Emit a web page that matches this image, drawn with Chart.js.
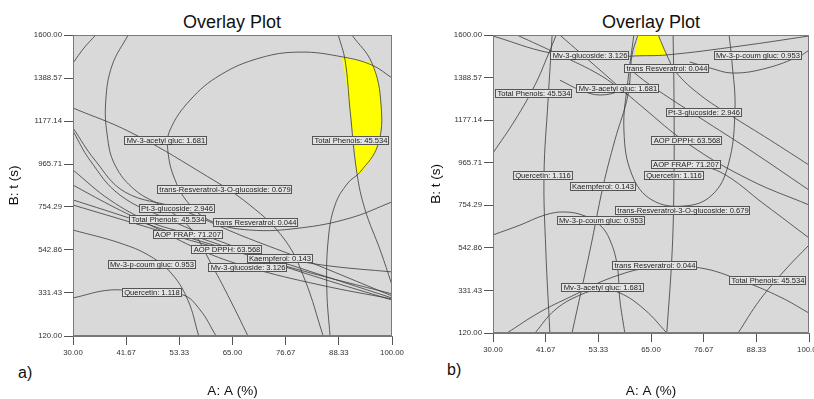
<!DOCTYPE html>
<html>
<head>
<meta charset="utf-8">
<script src="https://cdn.jsdelivr.net/npm/chart.js@4/dist/chart.umd.min.js"></script>
<style>
  body { margin: 0; width: 814px; height: 399px; overflow: hidden; position: relative; background: #fff;
         font-family: Arial, "Liberation Sans", sans-serif; color: #111; }
  canvas { position: absolute; top: 0; }
  #ca { left: 0; }
  #cb { left: 410px; }
  .ttl { position: absolute; top: 13px; width: 200px; text-align: center; font-size: 18px; line-height: 18px; }
  .tag { position: absolute; font-size: 16px; line-height: 16px; }
</style>
</head>
<body>
<div class="ttl" style="left:132px">Overlay Plot</div>
<div class="ttl" style="left:551px">Overlay Plot</div>
<div class="tag" style="left:18px;top:365px">a)</div>
<div class="tag" style="left:447px;top:362px">b)</div>
<canvas id="ca" width="410" height="399"></canvas>
<canvas id="cb" width="404" height="399"></canvas>
<script>
const xTicks = [30, 41.67, 53.33, 65, 76.67, 88.33, 100];
const yTicks = [120, 331.43, 542.86, 754.29, 965.71, 1177.14, 1388.57, 1600];

// panel a) contour lines as [A (%), t (s)]
const aTopArc = [[30, 1462], [32.4, 1536], [35, 1600]];
const aBigArc = [[42.1, 1600], [38.6, 1452], [37.2, 1280], [37.5, 1108], [39.2, 961], [43.6, 838], [50.2, 749], [55.7, 651], [60.7, 459], [64.5, 297], [68.4, 120]];
const aAcetyl = [[30, 1241], [42.5, 1123], [57.9, 926], [68.8, 764], [76.5, 592], [80.9, 395], [84.9, 120]];
const aResveratrol = [[100, 1389], [95.6, 1452], [89.2, 1492], [79.8, 1516], [71.0, 1487], [62.3, 1403], [55.7, 1280], [51.3, 1133], [50.8, 1035], [52.4, 887], [55.7, 764], [60.7, 681], [68.8, 641], [79.8, 651], [90.8, 700], [100, 779]];
const aEdge = [[88.2, 1600], [89.7, 1477], [90.8, 1231], [92.3, 921], [94.1, 740], [97.4, 543], [100, 371]];
const aPhenols = [[91.2, 1600], [95.6, 1462], [97.6, 1256], [96.9, 1059], [93.0, 926], [90.3, 872], [87.5, 764], [86.0, 592], [85.7, 346], [86.4, 120]];
const aPt3 = [[30, 1143], [34.8, 985], [41.4, 828], [52.8, 749], [66.6, 617], [79.8, 503], [100, 317]];
const aPhenols2 = [[30, 1128], [33.7, 985], [40.3, 813], [50.8, 695], [64.5, 567], [79.8, 454], [100, 307]];
const aFrap = [[30, 936], [38.1, 789], [46.9, 681], [55.2, 622], [68.8, 518], [84.2, 405], [100, 297]];
const aDpph = [[30, 789], [40.3, 715], [53.5, 617], [63.8, 548], [79.8, 444], [100, 327]];
const aKaempferol = [[30, 764], [44.7, 666], [57.9, 577], [66.6, 533], [75.4, 503], [86.4, 464], [100, 435]];
const aGlucoside = [[30, 862], [38.1, 764], [46.9, 666], [57.9, 543], [68.4, 459], [84.2, 371], [100, 302]];
const aCoum = [[30, 641], [40.3, 577], [46.9, 513], [51.7, 425], [55.2, 297], [57.6, 120]];
const aQuercetin = [[30, 307], [38.1, 346], [44.7, 336], [54.1, 322], [57.9, 248], [61.4, 120]];
const aYellow = [[89.0, 1492], [92.3, 1477], [95.6, 1457], [97.1, 1354], [97.6, 1231], [97.2, 1084], [95.6, 995], [92.5, 917], [91.7, 1059], [90.8, 1231], [89.9, 1379]];
const aLabels = [
  ['Mv-3-acetyl gluc: 1.681', 50.4, 1084],
  ['Total Phenols: 45.534', 91.0, 1084],
  ['trans-Resveratrol-3-O-glucoside: 0.679', 63.4, 843],
  ['Pt-3-glucoside: 2.946', 52.8, 749],
  ['Total Phenols: 45.534', 50.8, 695],
  ['trans Resveratrol: 0.044', 70.2, 681],
  ['AOP FRAP: 71.207', 55.2, 622],
  ['AOP DPPH: 63.568', 63.8, 548],
  ['Kaempferol: 0.143', 75.4, 503],
  ['Mv-3-p-coum gluc: 0.953', 47.3, 474],
  ['Mv-3-glucoside: 3.126', 68.4, 459],
  ['Quercetin: 1.118', 47.3, 336]
];

// panel b)
const bGlucoside = [[30, 1595], [42.6, 1511], [53.7, 1486], [61.5, 1496], [68.5, 1501], [84.7, 1545], [100, 1595]];
const bYellowEdge = [[66.6, 1600], [68.5, 1501], [70.5, 1416], [75.9, 1302], [82.5, 1203], [91.4, 1078], [100, 954]];
const bCoumTop = [[73.6, 1466], [78.1, 1436], [83.2, 1411], [90.7, 1436], [98.0, 1496], [100, 1525]];
const bOval = [[61.2, 1600], [59.9, 1376], [59.0, 1128], [60.8, 905], [65.2, 781], [72.5, 751], [78.5, 805], [82.1, 954], [83.6, 1228], [82.9, 1476], [82.3, 1600]];
const bQuercetinL = [[43.1, 1600], [42.2, 1277], [41.3, 905], [41.7, 532], [42.6, 120]];
const bQuercetinR = [[69.9, 1600], [70.1, 1277], [70.1, 905], [69.7, 532], [68.5, 120]];
const bKaempferol = [[62.1, 1600], [60.8, 1501], [59.9, 1302], [57.0, 1078], [54.4, 850], [51.5, 532], [47.5, 120]];
const bResveratrol = [[33.1, 120], [40.4, 224], [47.1, 299], [56.6, 398], [65.9, 448], [75.9, 443], [84.7, 383], [93.6, 299], [100, 219]];
const bAcetyl = [[39.3, 120], [43.7, 234], [49.3, 309], [53.7, 334], [58.1, 319], [63.7, 234], [68.5, 120]];
const bCoum = [[30, 607], [36.0, 656], [41.5, 706], [45.9, 721], [50.4, 701], [53.7, 656], [55.9, 582], [57.5, 458], [58.1, 284], [59.2, 120]];
const bPhenols = [[100, 557], [94.7, 433], [89.1, 284], [84.3, 120]];
const bPhenolsTop = [[30, 1014], [34.9, 1178], [39.3, 1352], [42.2, 1501], [44.0, 1600]];
const bAcetylTop = [[44.8, 1376], [49.3, 1327], [53.7, 1302], [58.6, 1327], [60.3, 1362]];
const bPt3 = [[59.7, 1441], [64.8, 1352], [75.9, 1188], [86.9, 1029], [100, 830]];
const bDpph = [[44.8, 1600], [53.7, 1426], [62.6, 1252], [73.6, 1054], [86.9, 880], [100, 756]];
const bFrap = [[73.6, 954], [80.3, 920], [90.3, 756], [100, 592]];
const bCross = [[35.3, 1600], [44.8, 1501], [53.7, 1401], [59.9, 1302]];
const bYellow = [[62.1, 1600], [66.6, 1600], [68.5, 1501], [61.5, 1501]];
const bLabels = [
  ['Mv-3-glucoside: 3.126', 51.5, 1501],
  ['Mv-3-p-coum gluc: 0.953', 88.7, 1501],
  ['trans Resveratrol: 0.044', 68.5, 1436],
  ['Mv-3-acetyl gluc: 1.681', 57.7, 1337],
  ['Total Phenols: 45.534', 39.1, 1312],
  ['Pt-3-glucoside: 2.946', 76.7, 1218],
  ['AOP DPPH: 63.568', 73.0, 1078],
  ['AOP FRAP: 71.207', 72.8, 959],
  ['Quercetin: 1.116', 41.1, 905],
  ['Quercetin: 1.116', 70.1, 905],
  ['Kaempferol: 0.143', 54.4, 850],
  ['trans-Resveratrol-3-O-glucoside: 0.679', 72.1, 731],
  ['Mv-3-p-coum gluc: 0.953', 53.9, 681],
  ['trans Resveratrol: 0.044', 65.9, 458],
  ['Total Phenols: 45.534', 90.9, 383],
  ['Mv-3-acetyl gluc: 1.681', 54.4, 348]
];

const family = 'Arial, "Liberation Sans", sans-serif';
const tickFont = { family, size: 7.8 };

function curve(pts) {
  return {
    data: pts.map(([x, y]) => ({ x, y })),
    showLine: true,
    borderColor: '#3a3a3a',
    borderWidth: 0.8,
    pointRadius: 0,
    tension: 0.4,
    fill: false,
    order: 0
  };
}

function region(pts, tension) {
  return {
    data: pts.map(([x, y]) => ({ x, y })),
    showLine: true,
    borderWidth: 0,
    borderColor: 'rgba(0,0,0,0)',
    backgroundColor: '#ffff00',
    pointRadius: 0,
    tension,
    fill: 'shape',
    order: 5
  };
}

// grey plot area with a thin frame
const plotBg = {
  id: 'plotBg',
  beforeDraw(chart) {
    const { ctx, chartArea: c } = chart;
    ctx.save();
    ctx.fillStyle = '#d9d9d9';
    ctx.fillRect(c.left, c.top, c.width, c.height);
    ctx.restore();
  },
  afterDatasetsDraw(chart) {
    const { ctx, chartArea: c } = chart;
    ctx.save();
    ctx.strokeStyle = '#7a7a7a';
    ctx.lineWidth = 1;
    ctx.strokeRect(c.left + 0.5, c.top + 0.5, c.width - 1, c.height - 1);
    ctx.restore();
  }
};

function makeChart(id, curves, yellow, labels, axisW, axisH, padRight, yTitlePad) {
  // contour value boxes
  const tags = {
    id: 'tags',
    afterDatasetsDraw(chart) {
      const { ctx, scales: { x, y } } = chart;
      ctx.save();
      ctx.font = '7.6px ' + family;
      ctx.textAlign = 'center';
      ctx.textBaseline = 'middle';
      labels.forEach(([text, vx, vy]) => {
        const px = Math.round(x.getPixelForValue(vx));
        const py = Math.round(y.getPixelForValue(vy));
        const w = Math.round(ctx.measureText(text).width) + 4;
        const h = 9;
        const l = px - Math.round(w / 2), t = py - 4;
        ctx.fillStyle = '#e3e3e3';
        ctx.fillRect(l, t, w, h);
        ctx.strokeStyle = '#555';
        ctx.lineWidth = 1;
        ctx.strokeRect(l + 0.5, t + 0.5, w - 1, h - 1);
        ctx.fillStyle = '#222';
        ctx.fillText(text, px, py + 0.5);
      });
      ctx.restore();
    }
  };

  return new Chart(document.getElementById(id), {
    type: 'scatter',
    data: { datasets: [yellow, ...curves] },
    options: {
      responsive: false,
      animation: false,
      layout: { padding: { top: 35, right: padRight, left: 0, bottom: 0 } },
      plugins: { legend: { display: false }, tooltip: { enabled: false } },
      scales: {
        x: {
          type: 'linear',
          min: 30,
          max: 100,
          afterBuildTicks: s => { s.ticks = xTicks.map(v => ({ value: v })); },
          afterFit: s => { s.height = axisH; s.paddingLeft = 0; s.paddingRight = 0; },
          ticks: { autoSkip: false, maxRotation: 0, padding: 3, color: '#333', font: tickFont,
                   callback: v => v.toFixed(2) },
          grid: { drawOnChartArea: false, tickLength: 9, color: '#555' },
          border: { color: '#777' },
          title: { display: true, text: 'A: A (%)', color: '#111', padding: { top: 0, bottom: 1 },
                   font: { family, size: 13.5, lineHeight: 1 } }
        },
        y: {
          type: 'linear',
          min: 120,
          max: 1600,
          afterBuildTicks: s => { s.ticks = yTicks.map(v => ({ value: v })); },
          afterFit: s => { s.width = axisW; },
          ticks: { autoSkip: false, padding: 2, color: '#333', font: tickFont,
                   callback: v => v.toFixed(2) },
          grid: { drawOnChartArea: false, tickLength: 9, color: '#555' },
          border: { color: '#777' },
          title: { display: true, text: 'B: t (s)', color: '#111', padding: { top: yTitlePad, bottom: 0 },
                   font: { family, size: 13.5, lineHeight: 1 } }
        }
      }
    },
    plugins: [plotBg, tags]
  });
}

makeChart('ca',
  [aTopArc, aBigArc, aAcetyl, aResveratrol, aEdge, aPhenols, aPt3, aPhenols2, aFrap, aDpph,
   aKaempferol, aGlucoside, aCoum, aQuercetin].map(curve),
  region(aYellow, 0.35), aLabels, 73, 63, 18, 8);

makeChart('cb',
  [bGlucoside, bYellowEdge, bCoumTop, bOval, bQuercetinL, bQuercetinR, bKaempferol, bResveratrol,
   bAcetyl, bCoum, bPhenols, bPhenolsTop, bAcetylTop, bPt3, bDpph, bFrap, bCross].map(curve),
  region(bYellow, 0), bLabels, 83, 66, 5, 20);
</script>
</body>
</html>
